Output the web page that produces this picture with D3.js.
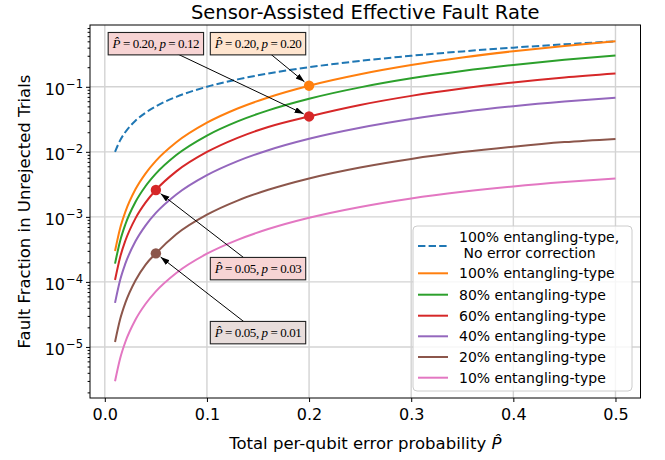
<!DOCTYPE html>
<html>
<head>
<meta charset="utf-8">
<script src="https://cdn.jsdelivr.net/npm/d3@7"></script>
<style>
  body { margin: 0; background: #fff; }
  text { font-family: "DejaVu Sans", sans-serif; fill: #000; }
</style>
</head>
<body>
<svg id="chart" width="665" height="460"></svg>
<script>
// total per-qubit error probability (x)
const pHat = [0.01, 0.015, 0.02, 0.03, 0.04, 0.05, 0.07, 0.1, 0.13, 0.16, 0.2, 0.25, 0.3, 0.35, 0.4, 0.45, 0.5];

// fault fraction in unrejected trials
const noCorrection = [0.01, 0.015, 0.02, 0.03, 0.04, 0.05, 0.07, 0.1, 0.13, 0.16, 0.2, 0.25, 0.3, 0.35, 0.4, 0.45, 0.5];
const ent100 = [2.98e-4, 6.68e-4, 1.18e-3, 2.65e-3, 4.67e-3, 7.25e-3, 0.0140, 0.0280, 0.0463, 0.0686, 0.104, 0.156, 0.216, 0.282, 0.352, 0.425, 0.5];
const ent80 = [1.91e-4, 4.27e-4, 7.57e-4, 1.69e-3, 2.98e-3, 4.62e-3, 8.93e-3, 0.0178, 0.0294, 0.0434, 0.0655, 0.098, 0.135, 0.175, 0.217, 0.260, 0.304];
const ent60 = [1.07e-4, 2.40e-4, 4.25e-4, 9.49e-4, 1.67e-3, 2.59e-3, 5.00e-3, 9.94e-3, 0.0164, 0.0241, 0.0350, 0.0525, 0.0725, 0.0940, 0.1165, 0.139, 0.160];
const ent40 = [4.76e-5, 1.07e-4, 1.89e-4, 4.21e-4, 7.41e-4, 1.15e-3, 2.21e-3, 4.38e-3, 7.20e-3, 0.0106, 0.0159, 0.0235, 0.0320, 0.0410, 0.0502, 0.0593, 0.068];
const ent20 = [1.19e-5, 2.66e-5, 4.71e-5, 1.05e-4, 1.85e-4, 2.75e-4, 5.40e-4, 1.08e-3, 1.78e-3, 2.61e-3, 3.90e-3, 5.75e-3, 7.78e-3, 9.90e-3, 0.0120, 0.0141, 0.0158];
const ent10 = [2.97e-6, 6.65e-6, 1.18e-5, 2.62e-5, 4.61e-5, 7.14e-5, 1.37e-4, 2.71e-4, 4.43e-4, 6.49e-4, 9.68e-4, 1.42e-3, 1.92e-3, 2.43e-3, 2.94e-3, 3.43e-3, 3.88e-3];

const seriesValues = [noCorrection, ent100, ent80, ent60, ent40, ent20, ent10];
const seriesNames = [
  ["100% entangling-type,", " No error correction"],
  ["100% entangling-type"],
  ["80% entangling-type"],
  ["60% entangling-type"],
  ["40% entangling-type"],
  ["20% entangling-type"],
  ["10% entangling-type"]
];
const seriesColors = ["#1f77b4", "#ff7f0e", "#2ca02c", "#d62728", "#9467bd", "#8c564b", "#e377c2"];

// highlighted points
const markSeries = [3, 1, 3, 5];
const markPHat = [0.20, 0.20, 0.05, 0.05];
const markP = [0.12, 0.20, 0.03, 0.01];
const markValue = [0.0350, 0.104, 2.59e-3, 2.75e-4];
// where each note box sits (data coords)
const noteX = [0.05, 0.15, 0.15, 0.15];
const noteY = [0.46, 0.46, 1.6e-4, 1.66e-5];

const xTicks = [0, 0.1, 0.2, 0.3, 0.4, 0.5];
const yTicks = [1e-5, 1e-4, 1e-3, 1e-2, 1e-1];

const L = 90, R = 640.5, T = 25, B = 398;

const svg = d3.select("#chart");

const x = d3.scaleLinear().domain([-0.0145, 0.5245]).range([L, R]);
const y = d3.scaleLog().domain([Math.pow(10, -5.785), Math.pow(10, -0.05)]).range([B, T]);

// grid
const grid = svg.append("g").attr("class", "grid");
grid.selectAll("line.gx")
  .data(xTicks)
  .enter()
  .append("line")
  .attr("x1", d => x(d)).attr("x2", d => x(d))
  .attr("y1", T).attr("y2", B)
  .attr("stroke", "#d3d3d3")
  .attr("stroke-width", 1.4);
grid.selectAll("line.gy")
  .data(yTicks)
  .enter()
  .append("line")
  .attr("x1", L).attr("x2", R)
  .attr("y1", d => y(d)).attr("y2", d => y(d))
  .attr("stroke", "#d3d3d3")
  .attr("stroke-width", 1.4);

// x axis
svg.append("g")
  .attr("transform", "translate(0," + B + ")")
  .call(d3.axisBottom(x).tickValues(xTicks).tickFormat(d3.format(".1f")).tickSize(4).tickPadding(7))
  .call(g => g.select(".domain").remove())
  .call(g => g.selectAll("text").attr("font-size", 16).attr("font-family", "DejaVu Sans"));

// y axis, minor ticks
const minor = [];
for (let e = -6; e <= -1; e++) {
  for (let m = 2; m <= 9; m++) {
    const v = m * Math.pow(10, e);
    if (v > y.domain()[0] && v < y.domain()[1]) minor.push(v);
  }
}
svg.append("g")
  .attr("transform", "translate(" + L + ",0)")
  .call(d3.axisLeft(y).tickValues(minor).tickFormat("").tickSize(2.4))
  .call(g => g.select(".domain").remove());

// y axis, major ticks with 10^k labels
svg.append("g")
  .attr("transform", "translate(" + L + ",0)")
  .call(d3.axisLeft(y).tickValues(yTicks).tickFormat("").tickSize(4))
  .call(g => g.select(".domain").remove())
  .selectAll(".tick")
  .each(function (d) {
    const t = d3.select(this).append("text")
      .attr("x", -7)
      .attr("y", 8)
      .attr("text-anchor", "end")
      .attr("font-size", 16)
      .attr("font-family", "DejaVu Sans")
      .attr("fill", "#000");
    t.append("tspan").text("10");
    t.append("tspan")
      .attr("dx", 1)
      .attr("dy", -7)
      .attr("font-size", 11.5)
      .text("\u2212" + Math.round(-Math.log10(d)));
  });

// series lines
const line = d3.line()
  .x(d => x(d[0]))
  .y(d => y(d[1]))
  .curve(d3.curveMonotoneX);

svg.append("g")
  .selectAll("path")
  .data(seriesValues)
  .enter()
  .append("path")
  .attr("d", vals => line(pHat.map((p, i) => [p, vals[i]])))
  .attr("fill", "none")
  .attr("stroke", (d, i) => seriesColors[i])
  .attr("stroke-width", 2)
  .attr("stroke-dasharray", (d, i) => i === 0 ? "7.4,3.2" : null);

// arrow head
svg.append("defs").append("marker")
  .attr("id", "head")
  .attr("markerUnits", "userSpaceOnUse")
  .attr("markerWidth", 10).attr("markerHeight", 8)
  .attr("refX", 9).attr("refY", 3)
  .attr("orient", "auto")
  .append("path")
  .attr("d", "M0,0 L9,3 L0,6 Z")
  .attr("fill", "#000");

// notes: arrows, dots, boxes
const notes = markSeries.map((s, i) => ({
  s: s,
  px: x(markPHat[i]), py: y(markValue[i]),
  tx: x(noteX[i]), ty: y(noteY[i]),
  pHat: markPHat[i], p: markP[i]
}));

svg.append("g")
  .selectAll("line")
  .data(notes)
  .enter()
  .append("line")
  .attr("x1", d => d.tx).attr("y1", d => d.ty)
  .attr("x2", d => {
    const dx = d.px - d.tx, dy = d.py - d.ty, len = Math.hypot(dx, dy);
    return d.px - dx / len * 6;
  })
  .attr("y2", d => {
    const dx = d.px - d.tx, dy = d.py - d.ty, len = Math.hypot(dx, dy);
    return d.py - dy / len * 6;
  })
  .attr("stroke", "#000")
  .attr("stroke-width", 1)
  .attr("marker-end", "url(#head)");

svg.append("g")
  .selectAll("circle")
  .data(notes)
  .enter()
  .append("circle")
  .attr("cx", d => d.px).attr("cy", d => d.py)
  .attr("r", 5.2)
  .attr("fill", d => seriesColors[d.s]);

const boxes = svg.append("g")
  .selectAll("g")
  .data(notes)
  .enter()
  .append("g");

const boxW = 95.4, boxH = 22.4;
boxes.append("rect")
  .attr("x", d => d.tx - boxW / 2).attr("y", d => d.ty - boxH / 2)
  .attr("width", boxW).attr("height", boxH)
  .attr("fill", d => d3.interpolateRgb("#fff", seriesColors[d.s])(0.2))
  .attr("stroke", "#222")
  .attr("stroke-width", 1.1);

const noteText = boxes.append("text")
  .attr("x", d => d.tx)
  .attr("y", d => d.ty + 4.6)
  .attr("text-anchor", "middle")
  .attr("textLength", 87)
  .attr("lengthAdjust", "spacing")
  .style("font-family", "'Liberation Serif', 'DejaVu Serif', serif")
  .attr("font-size", 13)
  .attr("fill", "#222");
noteText.append("tspan").attr("font-style", "italic").text("P\u0302");
noteText.append("tspan").text(d => " = " + d.pHat.toFixed(2) + ", ");
noteText.append("tspan").attr("font-style", "italic").text("p");
noteText.append("tspan").text(d => " = " + d.p.toFixed(2));

// spines
svg.append("rect")
  .attr("x", L).attr("y", T)
  .attr("width", R - L).attr("height", B - T)
  .attr("fill", "none")
  .attr("stroke", "#000")
  .attr("stroke-width", 1);

// legend
const lg = svg.append("g").attr("transform", "translate(413,226)");
lg.append("rect")
  .attr("width", 219).attr("height", 165)
  .attr("rx", 4)
  .attr("fill", "#fff").attr("fill-opacity", 0.8)
  .attr("stroke", "#ccc");

const rowY = [20, 47.3, 68.7, 89.7, 110.3, 131, 151.7];
const rows = lg.selectAll("g.row")
  .data(seriesNames)
  .enter()
  .append("g")
  .attr("transform", (d, i) => "translate(0," + rowY[i] + ")");
rows.append("line")
  .attr("x1", 5).attr("x2", 35)
  .attr("stroke", (d, i) => seriesColors[i])
  .attr("stroke-width", 2)
  .attr("stroke-dasharray", (d, i) => i === 0 ? "7.4,3.2" : null);
rows.append("text")
  .attr("x", 46)
  .attr("font-size", 14)
  .attr("xml:space", "preserve")
  .style("white-space", "pre")
  .selectAll("tspan")
  .data(d => d)
  .enter()
  .append("tspan")
  .attr("x", 46)
  .attr("y", (d, j, all) => all.length > 1 ? (j === 0 ? -4.3 : 12.3) : 5)
  .text(d => d);

// title and axis labels
svg.append("text")
  .attr("x", (L + R) / 2).attr("y", 18.5)
  .attr("text-anchor", "middle")
  .attr("font-size", 19.5)
  .text("Sensor-Assisted Effective Fault Rate");

const xl = svg.append("text")
  .attr("x", (L + R) / 2).attr("y", 449)
  .attr("text-anchor", "middle")
  .attr("font-size", 16.5);
xl.append("tspan").text("Total per-qubit error probability ");
xl.append("tspan").attr("font-style", "italic").text("P\u0302");

svg.append("text")
  .attr("transform", "translate(30," + (T + B) / 2 + ") rotate(-90)")
  .attr("text-anchor", "middle")
  .attr("font-size", 16.5)
  .text("Fault Fraction in Unrejected Trials");
</script>
</body>
</html>
